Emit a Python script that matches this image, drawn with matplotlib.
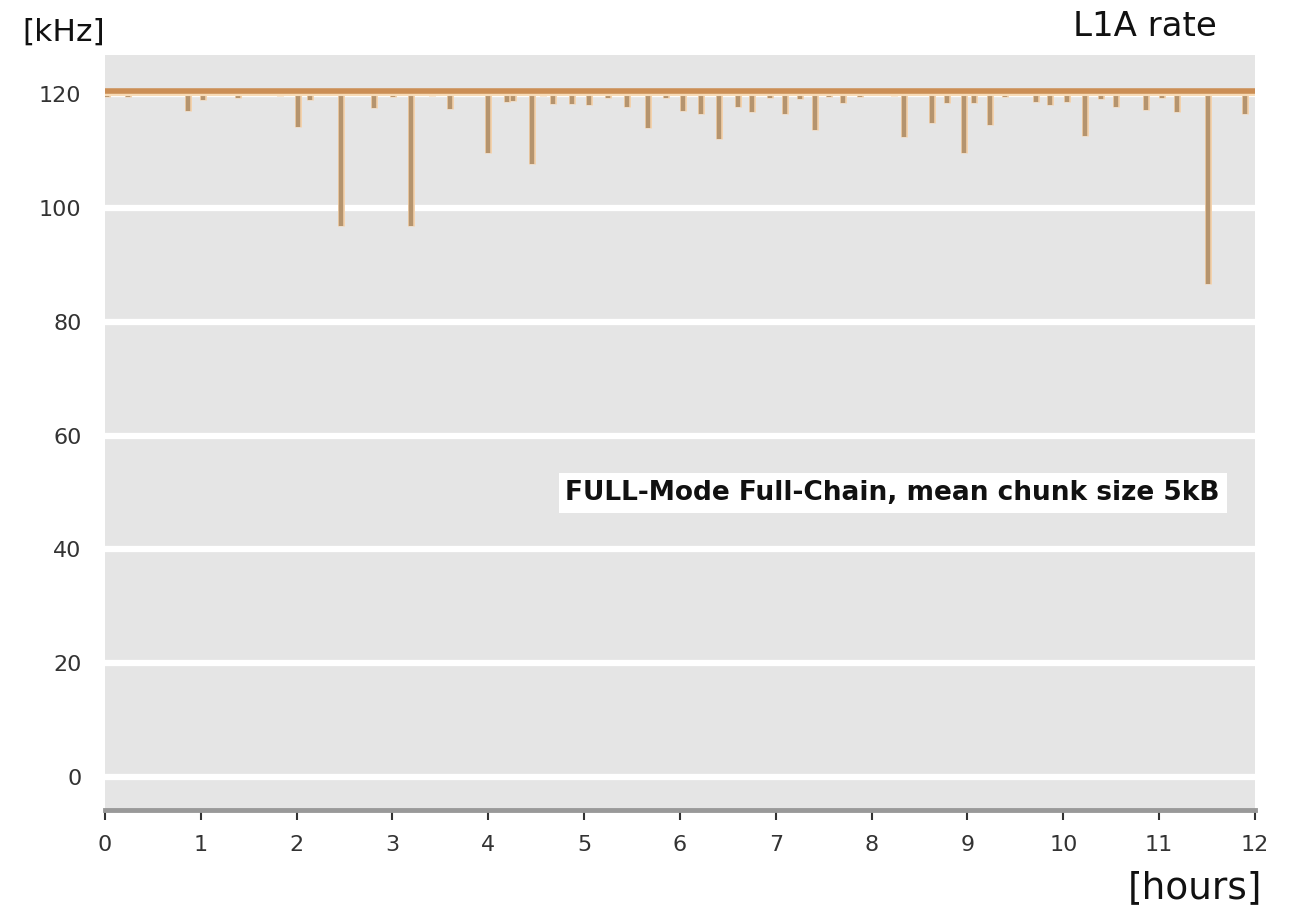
import numpy as np
from matplotlib import pyplot as plt

# L1A rate over a 12 hour run, baseline plus the dips seen in the trace
t_start = 0.0
t_end = 12.0
base_khz = 120.6
dip_hours = [0.02, 0.24, 0.68, 0.87, 1.02, 1.39, 1.83, 2.01, 2.14, 2.46,
             2.81, 3.01, 3.19, 3.41, 3.60, 3.79, 4.00, 4.20, 4.26, 4.46,
             4.57, 4.68, 4.87, 5.05, 5.25, 5.45, 5.67, 5.85, 6.03, 6.22,
             6.41, 6.61, 6.75, 6.94, 7.10, 7.25, 7.41, 7.55, 7.70, 7.88,
             8.23, 8.34, 8.63, 8.79, 8.96, 9.07, 9.24, 9.39, 9.71, 9.86,
             10.04, 10.23, 10.39, 10.55, 10.86, 11.03, 11.19, 11.51, 11.90]
dip_khz = [119.5, 119.6, 119.8, 117.0, 119.0, 119.3, 119.7, 114.2, 119.0, 96.9,
           117.6, 119.6, 96.9, 119.7, 117.4, 119.8, 109.7, 118.6, 118.8, 107.8,
           119.7, 118.3, 118.3, 118.1, 119.4, 117.7, 114.1, 119.4, 117.0, 116.5,
           112.1, 117.7, 116.9, 119.4, 116.6, 119.2, 113.8, 119.6, 118.4, 119.6,
           119.7, 112.4, 115.0, 118.4, 109.7, 118.5, 114.6, 119.6, 118.6, 118.1,
           118.6, 112.6, 119.1, 117.8, 117.2, 119.4, 116.8, 86.6, 116.5]
xticks = list(range(0, 13))
yticks = [0, 20, 40, 60, 80, 100, 120]
label = 'FULL-Mode Full-Chain, mean chunk size 5kB'

fig = plt.figure(figsize=(12.92, 9.08), dpi=100)
ax = fig.add_axes([105/1292, 1-810/908, 1150/1292, 755/908])
ax.set_facecolor('#e5e5e5')
ax.set_xlim(0, 12)
ax.set_ylim(-5.8, 126.9)

for y in yticks:
    ax.axhline(y, color='white', lw=4.5, zorder=1)

ax.vlines(dip_hours, dip_khz, base_khz, color='#f4d2ac', lw=5, zorder=2)
ax.vlines(dip_hours, dip_khz, base_khz, color='#b5946e', lw=3.2, zorder=3)
ax.plot([t_start, t_end], [base_khz - 0.6, base_khz - 0.6], color='#f8dcb8', lw=3, zorder=3)
ax.plot([t_start, t_end], [base_khz, base_khz], color='#cb8e55', lw=4, zorder=4)

ax.text(8.22, 49.9, label, fontsize=19, fontweight='bold', color='#111111',
        ha='center', va='center', zorder=5,
        bbox=dict(facecolor='white', edgecolor='none', pad=5))

for s in ['top', 'right', 'left']:
    ax.spines[s].set_visible(False)
ax.spines['bottom'].set_color('#999999')
ax.spines['bottom'].set_linewidth(3.5)

ax.set_xticks(xticks)
ax.set_yticks(yticks)
ax.tick_params(axis='x', direction='out', length=7, width=1.5, color='#333333',
               labelsize=16, labelcolor='#333333', pad=11)
ax.tick_params(axis='y', length=0, labelsize=16, labelcolor='#333333', pad=17)

fig.text(22/1292, 1-32/908, '[kHz]', fontsize=22.5, ha='left', va='center', color='#111111')
fig.text(1217/1292, 1-27/908, 'L1A rate', fontsize=24.5, ha='right', va='center', color='#111111')
fig.text(1262/1292, 1-888/908, '[hours]', fontsize=27, ha='right', va='center', color='#111111')

fig.savefig('out.png', dpi=100)
